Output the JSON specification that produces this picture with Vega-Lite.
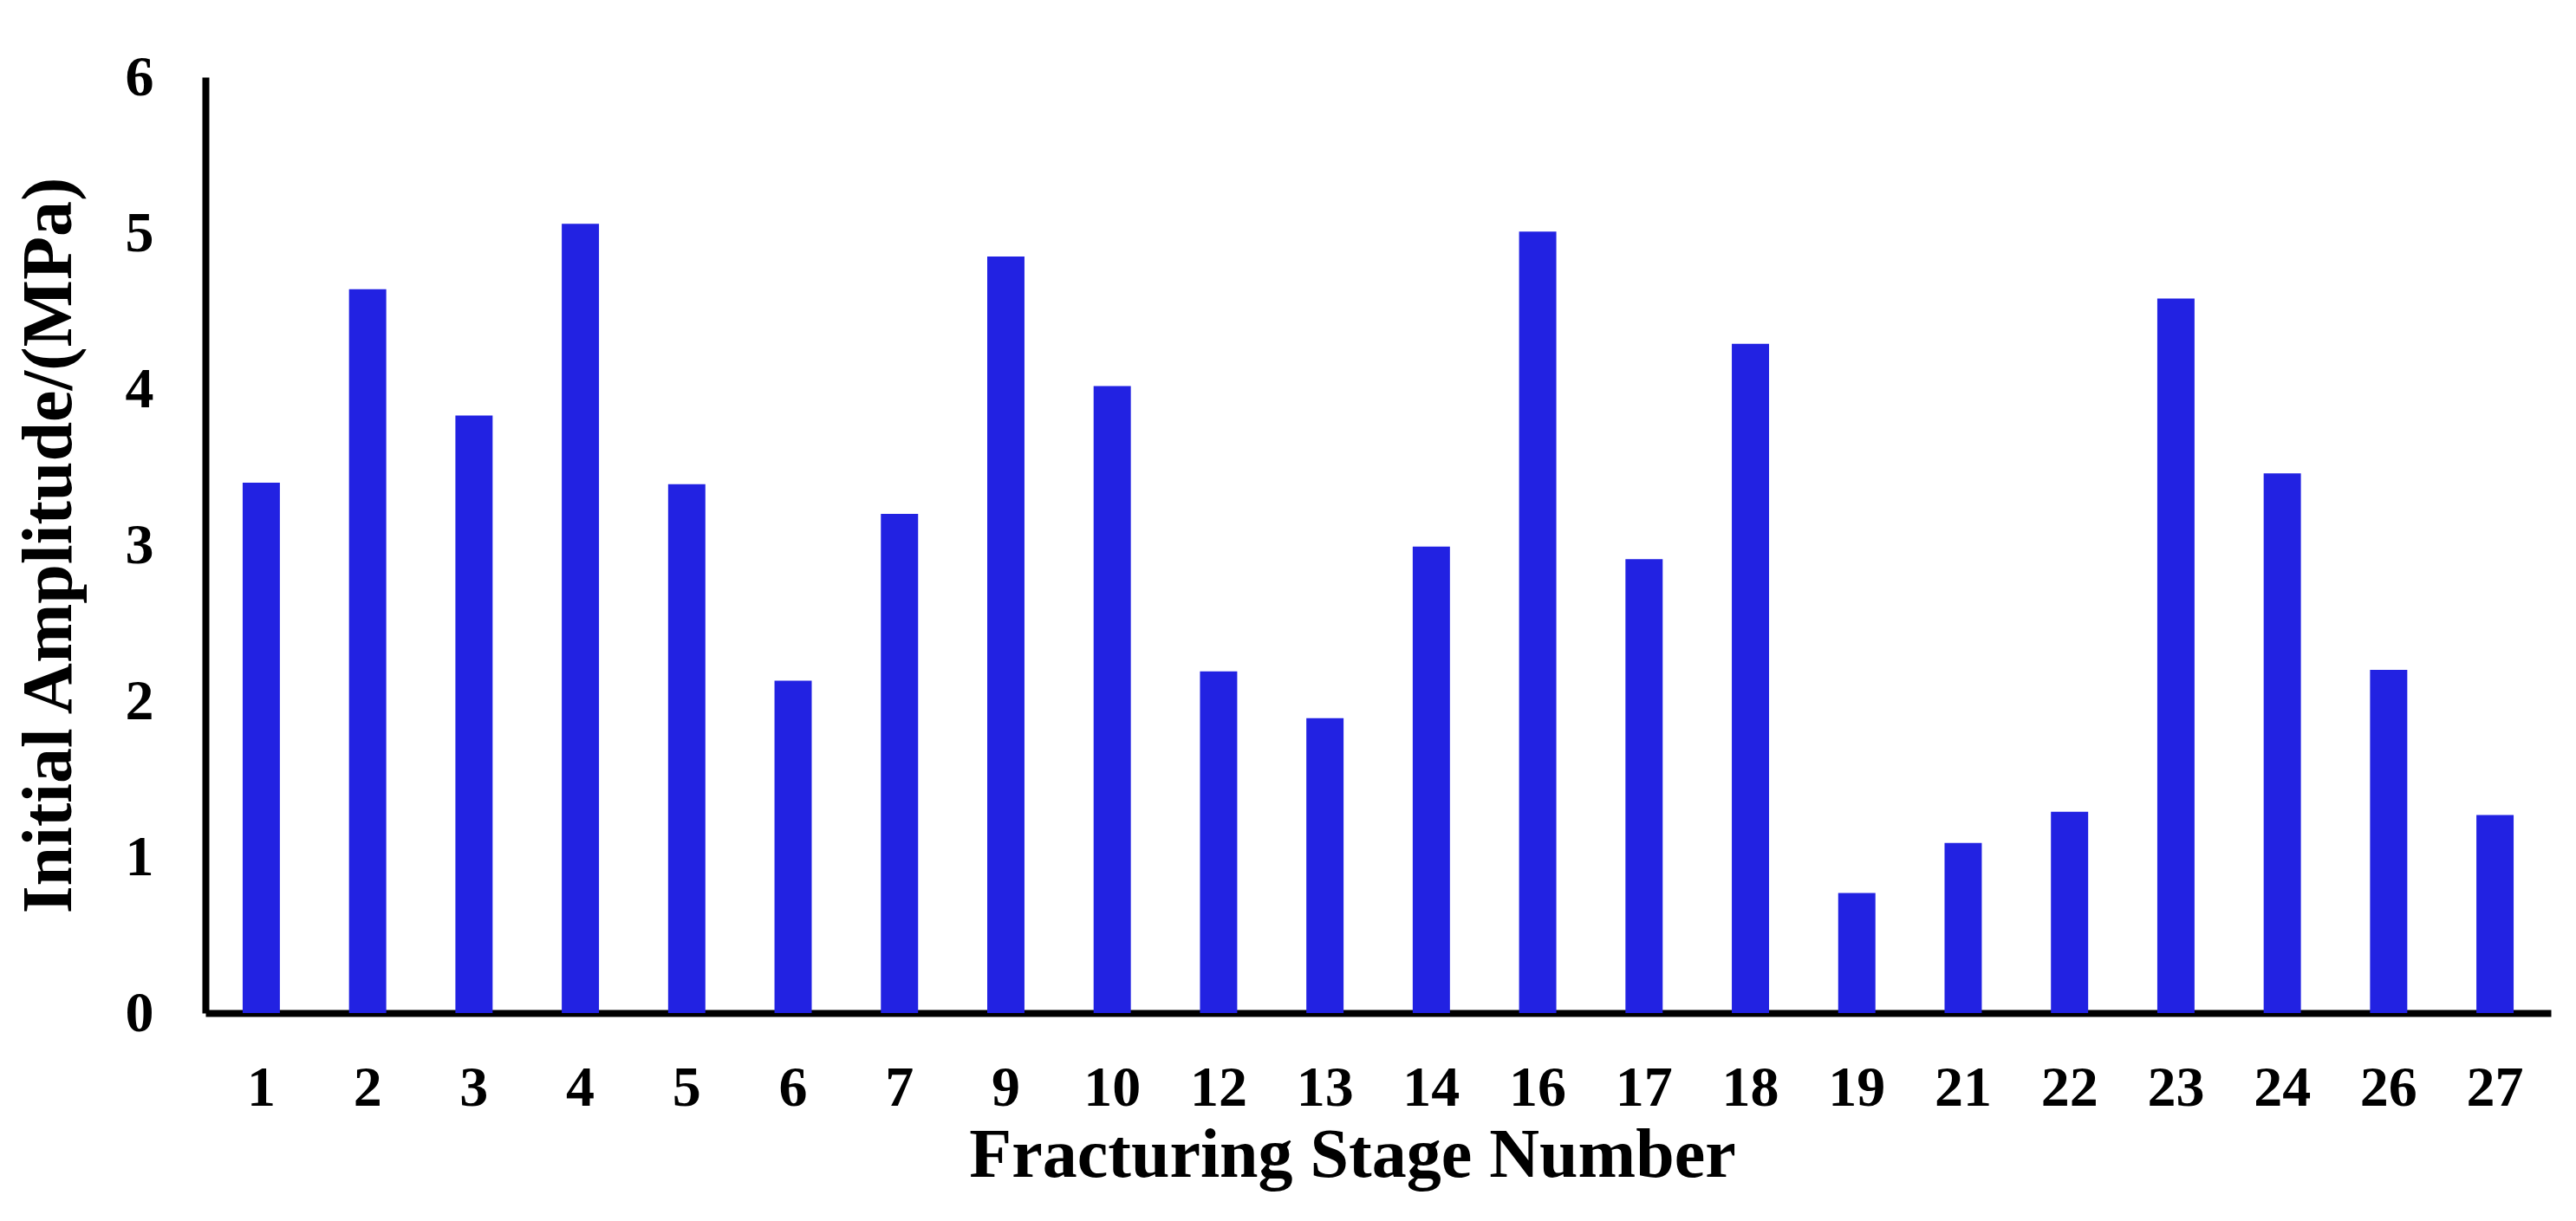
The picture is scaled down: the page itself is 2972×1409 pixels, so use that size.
{
  "$schema": "https://vega.github.io/schema/vega-lite/v6.json",
  "autosize": "none",
  "width": 2706,
  "height": 1080,
  "padding": {"left": 237, "top": 89, "right": 29, "bottom": 240},
  "background": "white",
  "config": {"view": {"stroke": null}},
  "data": {"values": [
    {"stage": "1", "amp": 3.40},
    {"stage": "2", "amp": 4.64},
    {"stage": "3", "amp": 3.83},
    {"stage": "4", "amp": 5.06},
    {"stage": "5", "amp": 3.39},
    {"stage": "6", "amp": 2.13},
    {"stage": "7", "amp": 3.20},
    {"stage": "9", "amp": 4.85},
    {"stage": "10", "amp": 4.02},
    {"stage": "12", "amp": 2.19},
    {"stage": "13", "amp": 1.89},
    {"stage": "14", "amp": 2.99},
    {"stage": "16", "amp": 5.01},
    {"stage": "17", "amp": 2.91},
    {"stage": "18", "amp": 4.29},
    {"stage": "19", "amp": 0.77},
    {"stage": "21", "amp": 1.09},
    {"stage": "22", "amp": 1.29},
    {"stage": "23", "amp": 4.58},
    {"stage": "24", "amp": 3.46},
    {"stage": "26", "amp": 2.20},
    {"stage": "27", "amp": 1.27}
  ]},
  "mark": {"type": "bar", "color": "#2222E2"},
  "encoding": {
    "x": {
      "field": "stage", "type": "ordinal", "sort": null,
      "scale": {"paddingInner": 0.65, "paddingOuter": 0.35},
      "axis": {
        "title": "Fracturing Stage Number",
        "labelAngle": 0,
        "labelFont": "Liberation Serif", "labelFontWeight": "bold", "labelFontSize": 66, "labelColor": "black",
        "titleFont": "Liberation Serif", "titleFontWeight": "bold", "titleFontSize": 80, "titleColor": "black",
        "titleX": 1323,
        "ticks": false, "labelPadding": 54, "titlePadding": 6,
        "domainColor": "black", "domainWidth": 8, "grid": false
      }
    },
    "y": {
      "field": "amp", "type": "quantitative",
      "scale": {"domain": [0, 6], "nice": false},
      "axis": {
        "title": "Initial Amplitude/(MPa)",
        "values": [0, 1, 2, 3, 4, 5, 6],
        "labelFont": "Liberation Serif", "labelFontWeight": "bold", "labelFontSize": 66, "labelColor": "black",
        "titleFont": "Liberation Serif", "titleFontWeight": "bold", "titleFontSize": 82, "titleColor": "black",
        "ticks": false, "labelPadding": 60, "titlePadding": 46,
        "domainColor": "black", "domainWidth": 8, "grid": false
      }
    }
  }
}
